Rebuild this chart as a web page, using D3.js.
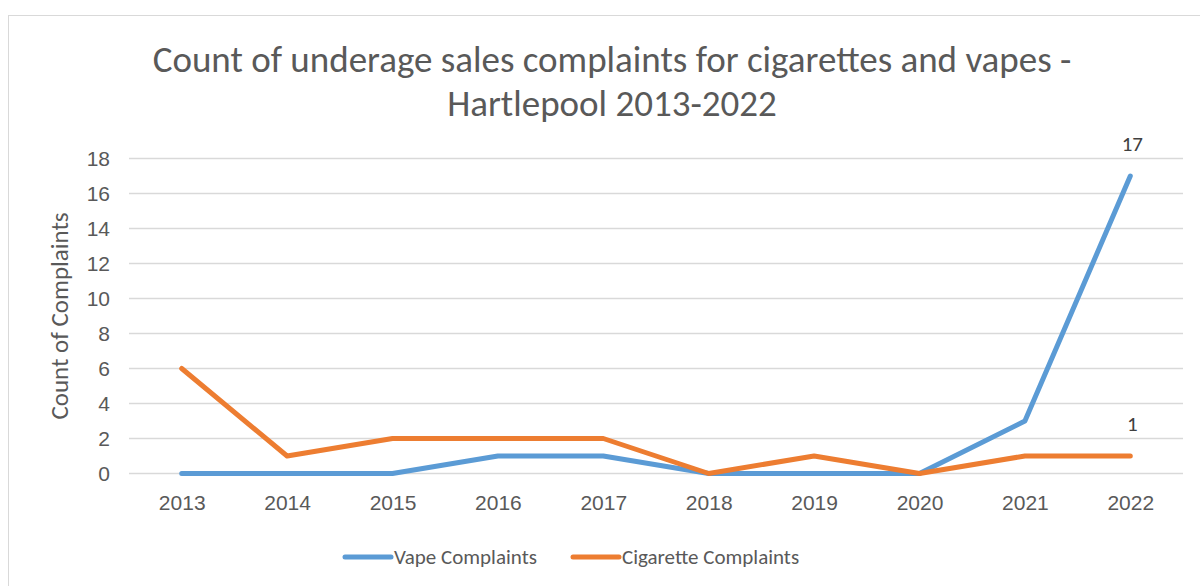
<!DOCTYPE html>
<html>
<head>
<meta charset="utf-8">
<script src="https://cdn.jsdelivr.net/npm/d3@7"></script>
<style>
  body { margin: 0; background: #fff; }
  svg { font-family: Carlito, "Open Sans", "Liberation Sans", sans-serif; }
</style>
</head>
<body>
<svg></svg>
<script>
  var years = ["2013","2014","2015","2016","2017","2018","2019","2020","2021","2022"];
  var vapeValues = [0, 0, 0, 1, 1, 0, 0, 0, 3, 17];
  var cigaretteValues = [6, 1, 2, 2, 2, 0, 1, 0, 1, 1];
  var yTicks = [0, 2, 4, 6, 8, 10, 12, 14, 16, 18];
  var seriesNames = ["Vape Complaints", "Cigarette Complaints"];
  var seriesColors = ["#5b9bd5", "#ed7d31"];

  var width = 1200, height = 586;
  var svg = d3.select('svg')
              .attr('width', width)
              .attr('height', height);

  // chart frame
  svg.append("rect")
     .attr("x", 8.5).attr("y", 15.5)
     .attr("width", 1200).attr("height", 600)
     .attr("fill", "none")
     .attr("stroke", "#d9d9d9");

  var xScale = d3.scalePoint()
                 .domain(years)
                 .range([129, 1183])
                 .padding(0.5);
  var yScale = d3.scaleLinear()
                 .domain([0, 18])
                 .range([473.5, 158.5]);

  // gridlines
  svg.append("g")
     .selectAll("line")
     .data(yTicks)
     .enter()
       .append("line")
       .attr("x1", 129).attr("x2", 1183)
       .attr("y1", d => yScale(d)).attr("y2", d => yScale(d))
       .attr("stroke", "#d9d9d9")
       .attr("stroke-width", 1.3);

  var yAxis = svg.append("g")
     .attr("transform", "translate(110,0)")
     .call(d3.axisLeft(yScale).tickValues(yTicks).tickSize(0).tickPadding(0));
  yAxis.select(".domain").remove();
  yAxis.selectAll("text")
       .attr("fill", "#595959")
       .style("font-size", "21px")
       .attr("dy", "0.35em");

  var xAxis = svg.append("g")
     .attr("transform", "translate(0,473)")
     .call(d3.axisBottom(xScale).tickSize(0).tickPadding(22));
  xAxis.select(".domain").remove();
  xAxis.selectAll("text")
       .attr("fill", "#595959")
       .style("font-size", "21px");

  // axis title
  svg.append("text")
     .attr("transform", "translate(68,316) rotate(-90)")
     .attr("text-anchor", "middle")
     .attr("fill", "#595959")
     .style("font-size", "25px")
     .text("Count of Complaints");

  // title
  var title = svg.append("text")
     .attr("text-anchor", "middle")
     .attr("fill", "#595959")
     .style("font-size", "37px");
  title.append("tspan").attr("x", 612).attr("y", 72)
       .text("Count of underage sales complaints for cigarettes and vapes -");
  title.append("tspan").attr("x", 612).attr("y", 116)
       .text("Hartlepool 2013-2022");

  var line = d3.line()
               .x((d, i) => xScale(years[i]))
               .y(d => yScale(d));

  [vapeValues, cigaretteValues].forEach(function(vals, k) {
    svg.append("path")
       .datum(vals)
       .attr("d", line)
       .attr("fill", "none")
       .attr("stroke", seriesColors[k])
       .attr("stroke-width", 5)
       .attr("stroke-linejoin", "round")
       .attr("stroke-linecap", "round");
  });

  // data labels on last point
  var last = years.length - 1;
  [vapeValues, cigaretteValues].forEach(function(vals) {
    svg.append("text")
       .attr("x", xScale(years[last]) + 2)
       .attr("y", yScale(vals[last]) - 25)
       .attr("text-anchor", "middle")
       .attr("fill", "#404040")
       .style("font-size", "21px")
       .text(vals[last]);
  });

  // legend
  var legendX = [345, 573];
  seriesNames.forEach(function(name, k) {
    var g = svg.append("g").attr("transform", `translate(${legendX[k]},557)`);
    g.append("line")
     .attr("x1", 0).attr("x2", 46)
     .attr("stroke", seriesColors[k])
     .attr("stroke-width", 5)
     .attr("stroke-linecap", "round");
    g.append("text")
     .attr("x", 49).attr("dy", "0.35em")
     .attr("fill", "#595959")
     .style("font-size", "21px")
     .text(name);
  });
</script>
</body>
</html>
